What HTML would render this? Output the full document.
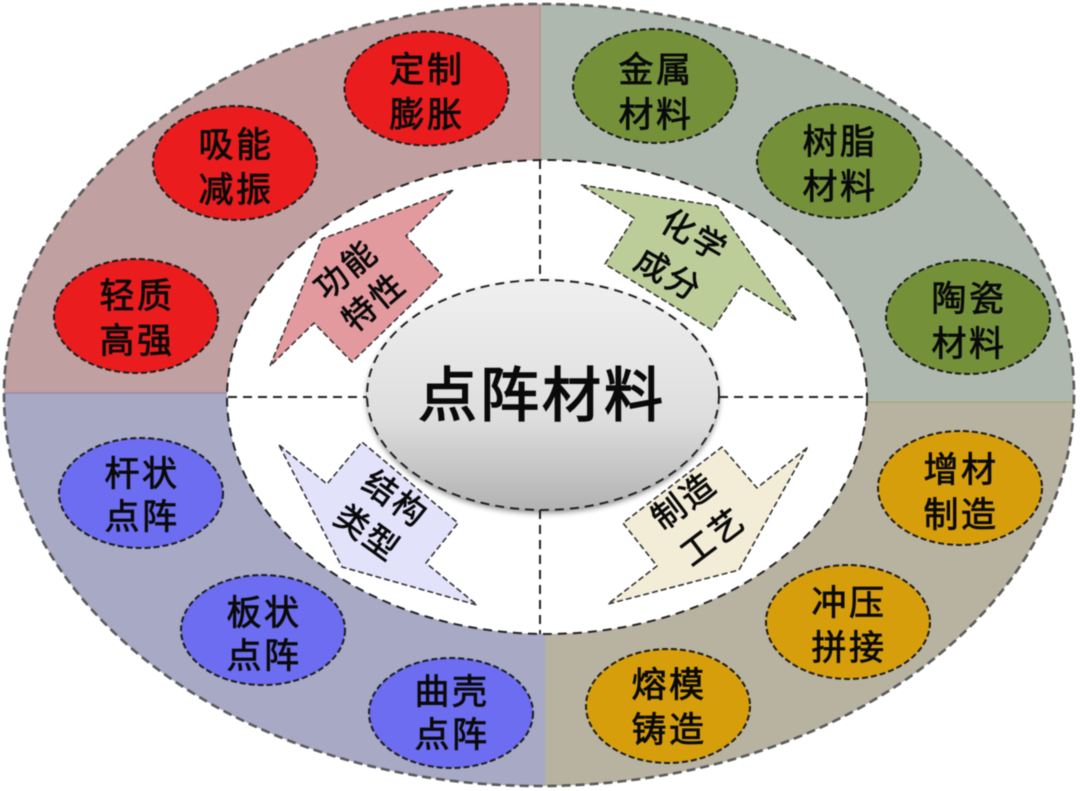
<!DOCTYPE html>
<html lang="zh"><head><meta charset="utf-8"><style>
html,body{margin:0;padding:0;background:#fff;width:1080px;height:791px;overflow:hidden}
svg{display:block;filter:blur(.4px)}
text{font-family:"Liberation Sans","Noto Sans CJK SC",sans-serif;fill:#0a0a0a;stroke:#0a0a0a;stroke-width:.8;text-anchor:middle;font-weight:400}
.n text{font-size:35px;letter-spacing:2.5px}
.a text{font-size:33px;letter-spacing:2.5px}
.d{fill:none;stroke:#222;stroke-width:2;stroke-dasharray:9 6}
.e{fill:none;stroke:#5a5a5a;stroke-width:2.6;stroke-dasharray:9 5}
.o{stroke:#1c1c1c;stroke-width:2;stroke-dasharray:6 3}
.p{stroke:#333;stroke-width:1.6;stroke-dasharray:6 3;stroke-linejoin:round}
</style></head><body>
<svg width="1080" height="791" viewBox="0 0 1080 791" xmlns="http://www.w3.org/2000/svg">
<defs>
<clipPath id="c"><ellipse cx="539" cy="395" rx="535" ry="391"/></clipPath>
<linearGradient id="g" x1="0" y1="0" x2="0" y2="1"><stop offset="0" stop-color="#f0f0f0"/><stop offset=".6" stop-color="#dedede"/><stop offset="1" stop-color="#b2b2b2"/></linearGradient>
<filter id="s" x="-10%" y="-10%" width="120%" height="125%"><feDropShadow dx="0" dy="3" stdDeviation="3" flood-color="#000" flood-opacity=".45"/></filter>
</defs>
<g clip-path="url(#c)">
<rect x="0" y="0" width="540" height="393" fill="#c0a0a0"/>
<rect x="540" y="0" width="540" height="402" fill="#afb8ae"/>
<rect x="0" y="393" width="545" height="398" fill="#a7a9c5"/>
<rect x="545" y="402" width="535" height="389" fill="#b8b2a1"/>
<path d="M0 393H540" stroke="#9a84a8" stroke-width="1.2"/>
<path d="M545 402H1080" stroke="#a8a878" stroke-width="1.2"/>
<path d="M540 0V393" stroke="#b58f8a" stroke-width="1.2"/>
</g>
<ellipse class="e" cx="539" cy="395" rx="535" ry="391"/>
<ellipse cx="547" cy="397" rx="320" ry="237" fill="#fff"/>
<ellipse class="d" cx="547" cy="397" rx="320" ry="237"/>
<path class="d" d="M540 160V280M540 510V634M228 397H367M719 397H867"/>

<polygon class="p" fill="#e39a9e" points="453,190 406,236 442,275 352,362 314,323 270,366 322,239"/>
<polygon class="p" fill="#bccd9a" points="581,185 717,206 797,321 741,286 712,330 605,264 634,218"/>
<polygon class="p" fill="#e3e2fb" points="279,445 327,484 362,442 458,523 426,563 477,605 342,567"/>
<polygon class="p" fill="#f3edd8" points="807,448 757,488 722,447 623,523 657,566 608,604 739,570"/>

<g class="a">
<text x="346" y="282" transform="rotate(-40 345 270)">功能</text>
<text x="374" y="314" transform="rotate(-40 373 302)">特性</text>
<text x="695" y="247" transform="rotate(30 694 235)">化学</text>
<text x="669" y="286" transform="rotate(30 668 274)">成分</text>
<text x="396" y="510" transform="rotate(36 395 498)">结构</text>
<text x="368" y="544" transform="rotate(36 367 532)">类型</text>
<text x="684" y="513" transform="rotate(-37 683 501)">制造</text>
<text x="713" y="549" transform="rotate(-37 712 537)">工艺</text>
</g>

<ellipse cx="543" cy="395" rx="176" ry="115" fill="url(#g)" filter="url(#s)"/>
<ellipse class="d" cx="543" cy="395" rx="176" ry="115"/>
<text x="542" y="416" style="font-size:59px;letter-spacing:3px;stroke-width:1.6">点阵材料</text>

<g class="n">
<g fill="#ea1c1e">
<ellipse class="o" cx="426.5" cy="88.5" rx="82" ry="57"/>
<ellipse class="o" cx="235" cy="163" rx="82" ry="57"/>
<ellipse class="o" cx="136" cy="316" rx="82" ry="57"/>
</g>
<g fill="#74913a">
<ellipse class="o" cx="655" cy="86" rx="82" ry="57"/>
<ellipse class="o" cx="839" cy="161" rx="82" ry="57"/>
<ellipse class="o" cx="968" cy="317" rx="82" ry="57"/>
</g>
<g fill="#6c6df0">
<ellipse class="o" cx="141" cy="493" rx="82" ry="55"/>
<ellipse class="o" cx="263" cy="630" rx="82" ry="55"/>
<ellipse class="o" cx="451" cy="713" rx="82" ry="55"/>
</g>
<g fill="#d69e0a">
<ellipse class="o" cx="960" cy="488" rx="82" ry="57"/>
<ellipse class="o" cx="848" cy="622" rx="82" ry="57"/>
<ellipse class="o" cx="668" cy="706" rx="82" ry="57"/>
</g>
<text x="427" y="82">定制</text><text x="427" y="127">膨胀</text>
<text x="236" y="157">吸能</text><text x="236" y="202">减振</text>
<text x="137" y="308">轻质</text><text x="137" y="353">高强</text>
<text x="656" y="82">金属</text><text x="656" y="127">材料</text>
<text x="840" y="154">树脂</text><text x="840" y="199">材料</text>
<text x="969" y="311">陶瓷</text><text x="969" y="356">材料</text>
<text x="142" y="486">杆状</text><text x="142" y="529">点阵</text>
<text x="264" y="625">板状</text><text x="264" y="668">点阵</text>
<text x="452" y="704">曲壳</text><text x="452" y="747">点阵</text>
<text x="961" y="482">增材</text><text x="961" y="527">制造</text>
<text x="849" y="615">冲压</text><text x="849" y="660">拼接</text>
<text x="669" y="697">熔模</text><text x="669" y="742">铸造</text>
</g>
</svg>
</body></html>
